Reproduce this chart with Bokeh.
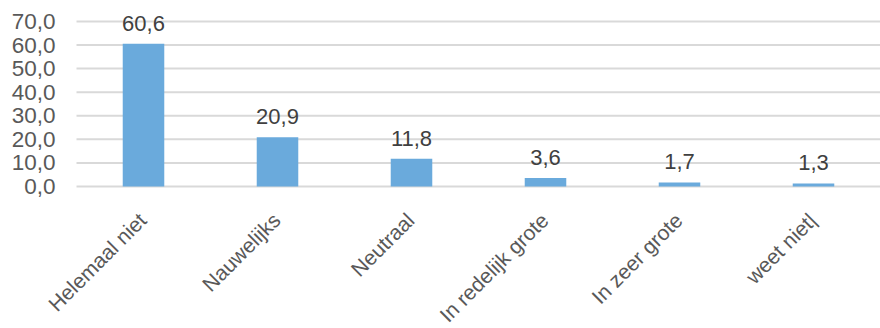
import math
from bokeh.plotting import figure
from bokeh.models import ColumnDataSource, Range1d, LabelSet
from bokeh.core.properties import value
from bokeh.embed import file_html
from bokeh.resources import INLINE

categories = ["Helemaal niet", "Nauwelijks", "Neutraal", "In redelijk grote", "In zeer grote", "weet niet|"]
values = [60.6, 20.9, 11.8, 3.6, 1.7, 1.3]
y_ticks = [0, 10, 20, 30, 40, 50, 60, 70]

n = len(categories)
xs = [i + 0.5 for i in range(n)]
labels = [("%.1f" % v).replace(".", ",") for v in values]
src = ColumnDataSource(dict(x=xs, cat=categories, val=values, lab=labels, zero=[0] * n))
tick_src = ColumnDataSource(dict(y=y_ticks, x0=[0] * len(y_ticks), x1=[n] * len(y_ticks),
                                 lab=[("%.1f" % t).replace(".", ",") for t in y_ticks]))

# the frame covers the whole canvas so that rotated labels and tick labels are never clipped
p = figure(x_range=Range1d(-76 / 134, n), y_range=Range1d(-60.25, 78.9), width=880, height=328,
           output_backend="svg", toolbar_location=None,
           min_border_left=0, min_border_right=0, min_border_top=0, min_border_bottom=0)
p.outline_line_color = None
p.background_fill_color = "white"
p.border_fill_color = "white"
p.xaxis.visible = False
p.yaxis.visible = False
p.xgrid.visible = False
p.ygrid.visible = False

# horizontal gridlines
p.segment(x0="x0", x1="x1", y0="y", y1="y", source=tick_src, line_color="#d9d9d9", line_width=2)

# y tick labels
ytl = LabelSet(x="x0", y="y", text="lab", source=tick_src, text_align="right",
               text_baseline="middle", x_offset=-21, text_font=value("Liberation Sans"),
               text_font_size=value("22.5px"), text_color=value("#595959"))
p.add_layout(ytl)

p.vbar(x="x", top="val", bottom=0, width=0.31, source=src, fill_color="#6aaadc", line_color=None)

lbl = LabelSet(x="x", y="val", text="lab", source=src, text_align="center",
               text_baseline="bottom", y_offset=13, text_font=value("Liberation Sans"),
               text_font_size=value("22px"), text_color=value("#404040"))
p.add_layout(lbl)

cat_lbl = LabelSet(x="x", y="zero", text="cat", source=src, text_align="right",
                   text_baseline="top", angle=math.pi / 4, x_offset=-9, y_offset=-22,
                   text_font=value("Liberation Sans"), text_font_size=value("21px"),
                   text_color=value("#595959"))
p.add_layout(cat_lbl)

open("out.html", "w").write(file_html(p, INLINE))
